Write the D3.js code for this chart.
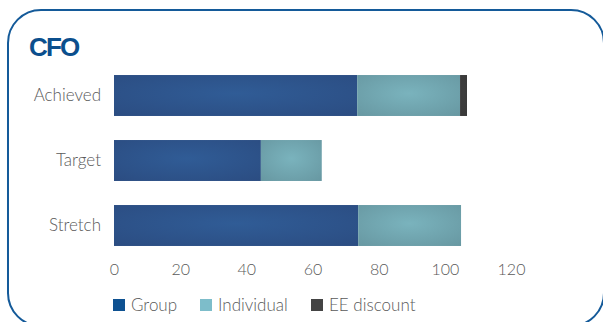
<!DOCTYPE html>
<html>
<head>
<meta charset="utf-8">
<script src="https://cdn.jsdelivr.net/npm/d3@7"></script>
<style>
  html, body { margin: 0; padding: 0; background: #fff; }
  svg { display: block; }
</style>
</head>
<body>
<svg id="chart" width="603" height="322"></svg>
<script>
// Incentive outcome for the CFO, stacked by component
const categories = ["Achieved", "Target", "Stretch"];
const seriesNames = ["Group", "Individual", "EE discount"];
const groupValues = [73.5, 44.4, 73.8];
const individualValues = [31.1, 18.4, 31.1];
const eeDiscountValues = [2.1, 0, 0];
const xTicks = [0, 20, 40, 60, 80, 100, 120];

const barColors = {
  "Group": { mid: "#305c96", edge: "#2b4c81" },
  "Individual": { mid: "#7ab3bd", edge: "#6797a1" },
  "EE discount": { mid: "#3e3e3e", edge: "#393939" }
};
const legendColors = { "Group": "#0e5191", "Individual": "#7dbdca", "EE discount": "#444444" };

const rows = categories.map((c, i) => ({
  category: c,
  "Group": groupValues[i],
  "Individual": individualValues[i],
  "EE discount": eeDiscountValues[i]
}));

const svg = d3.select("#chart");
const textFont = "Lato, 'Open Sans', sans-serif";

// Card outline
svg.append("rect")
  .attr("x", 8).attr("y", 10)
  .attr("width", 596).attr("height", 316)
  .attr("rx", 33).attr("ry", 33)
  .attr("fill", "#fff")
  .attr("stroke", "#145a99")
  .attr("stroke-width", 2);

svg.append("text")
  .attr("x", 29).attr("y", 56)
  .attr("font-family", "'Liberation Sans', Arial, sans-serif")
  .attr("font-weight", "bold")
  .attr("font-size", 26)
  .attr("letter-spacing", -1.8)
  .attr("fill", "#0b4f8d")
  .text("CFO");

// Soft shading on the bars
const defs = svg.append("defs");
seriesNames.forEach((name, i) => {
  const g = defs.append("radialGradient")
    .attr("id", "shade" + i)
    .attr("cx", "50%").attr("cy", "45%").attr("r", "75%");
  g.append("stop").attr("offset", "0%").attr("stop-color", barColors[name].mid);
  g.append("stop").attr("offset", "100%").attr("stop-color", barColors[name].edge);
});

const x = d3.scaleLinear().domain([0, 120]).range([114, 511]);
const y = d3.scaleBand().domain(categories).range([63, 258])
  .paddingInner(0.37).paddingOuter(0.185);

const stack = d3.stack().keys(seriesNames);
const stacked = stack(rows);

svg.append("g").selectAll("g")
  .data(stacked)
  .join("g")
  .attr("fill", (d, i) => `url(#shade${i})`)
  .selectAll("rect")
  .data(d => d.filter(s => s[1] - s[0] > 0))
  .join("rect")
  .attr("x", d => x(d[0]))
  .attr("y", d => y(d.data.category))
  .attr("width", d => x(d[1]) - x(d[0]))
  .attr("height", y.bandwidth());

// Category axis (labels only)
const yAxis = svg.append("g")
  .attr("transform", "translate(114,0)")
  .call(d3.axisLeft(y).tickSize(0).tickPadding(13));
yAxis.select(".domain").remove();
yAxis.selectAll("text")
  .attr("font-family", textFont)
  .attr("font-weight", 300)
  .attr("font-size", 17)
  .attr("fill", "#5a5a5a");

// Value axis (labels only)
const xAxis = svg.append("g")
  .attr("transform", "translate(0,258)")
  .call(d3.axisBottom(x).tickValues(xTicks).tickSize(0).tickPadding(6));
xAxis.select(".domain").remove();
xAxis.selectAll("text")
  .attr("font-family", textFont)
  .attr("font-weight", 300)
  .attr("font-size", 16)
  .attr("fill", "#5a5a5a");

// Legend
const legendX = [113, 200, 311];
const legend = svg.append("g").selectAll("g")
  .data(seriesNames)
  .join("g")
  .attr("transform", (d, i) => `translate(${legendX[i]},299)`);
legend.append("rect")
  .attr("width", 12).attr("height", 12)
  .attr("fill", d => legendColors[d]);
legend.append("text")
  .attr("x", 18).attr("y", 11.5)
  .attr("font-family", textFont)
  .attr("font-weight", 300)
  .attr("font-size", 17)
  .attr("fill", "#5a5a5a")
  .text(d => d);
</script>
</body>
</html>
